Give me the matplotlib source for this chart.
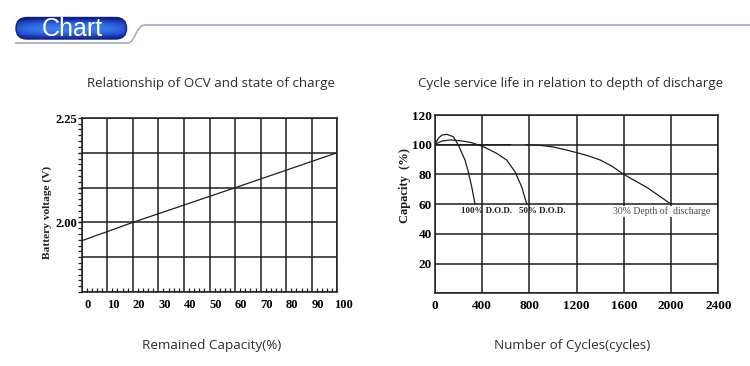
"""Battery charts: OCV vs state of charge, and cycle life vs depth of discharge."""

import numpy as np
import matplotlib
matplotlib.use("Agg")
import matplotlib.pyplot as plt
from matplotlib.patches import FancyBboxPatch
from matplotlib.path import Path
from matplotlib.patches import PathPatch
from matplotlib.ticker import AutoMinorLocator
import matplotlib.transforms as mtransforms

# ---- data: OCV vs state of charge ----
soc = [0, 20, 60, 100]
ocv = [1.956, 2.000, 2.083, 2.167]
soc_ticks = [0, 10, 20, 30, 40, 50, 60, 70, 80, 90, 100]
ocv_grid = [1.8333, 1.9167, 2.0, 2.0833, 2.1667, 2.25]
ocv_labels = ["", "", "2.00", "", "", "2.25"]

# ---- data: cycle life vs depth of discharge ----
cyc_100 = [0, 30, 60, 99, 155, 198, 254, 282, 311, 339]
cap_100 = [100.5, 104.5, 106.5, 107.0, 105.4, 99.8, 89.7, 81.8, 71.7, 60.0]
cyc_50 = [0, 60, 127, 212, 311, 409, 522, 607, 678, 734, 771, 780]
cap_50 = [100.3, 102.5, 103.2, 102.7, 101.4, 98.7, 94.2, 89.7, 81.8, 71.7, 61.7, 60.0]
cyc_30 = [0, 640, np.nan, 770, 900, 1000, 1100, 1200, 1300, 1400, 1500, 1600, 1700, 1800, 1900, 2000]
cap_30 = [100, 100, np.nan, 100, 99.5, 98.5, 96.7, 94.7, 92.5, 89.7, 85.5, 80, 75.5, 71, 65.5, 60]
cycle_ticks = [0, 400, 800, 1200, 1600, 2000, 2400]
cap_ticks = [0, 20, 40, 60, 80, 100, 120]
cap_labels = ["", "20", "40", "60", "80", "100", "120"]

W, H = 750, 366
SERIF = "Liberation Serif"
SANS = "Open Sans"
INK = "#1e1e1e"


def fx(x):
    return x / W


def fy(y):
    return 1 - y / H


fig = plt.figure(figsize=(W / 100, H / 100), dpi=100)

# ---- header: blue "Chart" pill with a rule ----
hdr = fig.add_axes([0, 0, 1, 1])
hdr.set_xlim(0, W)
hdr.set_ylim(H, 0)
hdr.axis("off")
rule = Path(
    [(15, 43), (128, 43), (135, 43), (136, 25), (145, 25), (W, 25)],
    [Path.MOVETO, Path.LINETO, Path.CURVE4, Path.CURVE4, Path.CURVE4, Path.LINETO],
)
hdr.add_patch(PathPatch(rule, fill=False, edgecolor="#a9a9c2", lw=1.2))
pill = FancyBboxPatch((16, 17.5), 110.5, 21.5, boxstyle="round,pad=0,rounding_size=10.7",
                      facecolor="none", edgecolor="#14207a", lw=1.0, zorder=3)
hdr.add_patch(pill)
grad_v = np.array([0.3, 0.62, 0.85, 0.95, 1.0, 0.92, 0.72, 0.4])[:, None]
grad_h = 1 - 0.3 * np.abs(np.linspace(-1, 1, 60))[None, :] ** 4
shade = grad_v * grad_h
cmap = matplotlib.colors.LinearSegmentedColormap.from_list(
    "pill", ["#0a1570", "#1f48cc", "#3f7eee"])
img = hdr.imshow(shade, cmap=cmap, vmin=0.25, vmax=1.0, extent=(16, 126.5, 39, 17.5),
                 aspect="auto", interpolation="bicubic", zorder=2)
img.set_clip_path(pill)
hdr.text(72.5, 28.6, "Chart", color="white", fontsize=18, family="Liberation Sans",
         ha="center", va="center", zorder=4)

# ---- left chart ----
ax1 = fig.add_axes([fx(81.7), fy(292), (337.3 - 81.7) / W, (292 - 118) / H])
ax1.plot(soc, ocv, color=INK, lw=0.9)
ax1.set_xlim(0, 100)
ax1.set_ylim(ocv_grid[0], ocv_grid[-1])
ax1.set_xticks(soc_ticks)
ax1.set_xticklabels([str(t) for t in soc_ticks])
ax1.set_yticks(ocv_grid)
ax1.set_yticklabels(ocv_labels)
ax1.xaxis.set_minor_locator(AutoMinorLocator(5))
ax1.yaxis.set_minor_locator(AutoMinorLocator(6))
ax1.grid(True, which="major", color=INK, lw=1.1)
ax1.tick_params(axis="x", which="major", length=0, pad=5, labelsize=9)
ax1.tick_params(axis="x", which="minor", direction="in", length=3, width=0.9, color=INK)
ax1.tick_params(axis="y", which="both", direction="out", length=3, width=0.9, color=INK,
                pad=0, labelsize=9)
for lbl in ax1.get_xticklabels() + ax1.get_yticklabels():
    lbl.set_family(SERIF)
    lbl.set_weight("bold")
shift = mtransforms.ScaledTranslation(6 / 100, 0, fig.dpi_scale_trans)
for lbl in ax1.get_xticklabels():
    lbl.set_transform(lbl.get_transform() + shift)
for sp in ax1.spines.values():
    sp.set_color(INK)
    sp.set_linewidth(1.1)

# ---- right chart ----
ax2 = fig.add_axes([fx(435), fy(293.3), (718.3 - 435) / W, (293.3 - 115) / H])
ax2.plot(cyc_100, cap_100, color=INK, lw=0.9)
ax2.plot(cyc_50, cap_50, color=INK, lw=0.9)
ax2.plot(cyc_30, cap_30, color=INK, lw=0.9)
ax2.set_xlim(0, 2400)
ax2.set_ylim(0, 120)
ax2.set_xticks(cycle_ticks)
ax2.set_yticks(cap_ticks)
ax2.set_yticklabels(cap_labels)
ax2.grid(True, color=INK, lw=1.1)
ax2.tick_params(length=0, labelsize=9.5)
ax2.tick_params(axis="x", pad=5)
ax2.tick_params(axis="y", pad=2)
for lbl in ax2.get_xticklabels() + ax2.get_yticklabels():
    lbl.set_family(SERIF)
    lbl.set_weight("bold")
for sp in ax2.spines.values():
    sp.set_color(INK)
    sp.set_linewidth(1.1)
ax2.text(440, 55.2, "100% D.O.D.", family=SERIF, fontsize=6.4, weight="bold",
         ha="center", va="center", color=INK)
ax2.text(910, 55.2, "50% D.O.D.", family=SERIF, fontsize=6.4, weight="bold",
         ha="center", va="center", color=INK)
ax2.text(1924, 55.2, "30% Depth of  discharge", family=SERIF, fontsize=7,
         ha="center", va="center", color="#4a4a4a",
         bbox=dict(facecolor="white", edgecolor="none", pad=0.5))

# ---- titles and axis labels ----
fig.text(fx(211), fy(83), "Relationship of OCV and state of charge", family=SANS,
         fontsize=9.6, color="#2e2e2e", ha="center", va="center")
fig.text(fx(571), fy(83), "Cycle service life in relation to depth of discharge", family=SANS,
         fontsize=9.6, color="#2e2e2e", ha="center", va="center")
fig.text(fx(212), fy(345), "Remained Capacity(%)", family=SANS,
         fontsize=9.7, color="#2e2e2e", ha="center", va="center")
fig.text(fx(572), fy(345), "Number of Cycles(cycles)", family=SANS,
         fontsize=9.7, color="#2e2e2e", ha="center", va="center")
fig.text(fx(46.7), fy(212), "Battery voltage (V)", family=SERIF, fontsize=8.2,
         weight="bold", rotation=90, ha="center", va="center", color=INK)
fig.text(fx(405), fy(186), "Capacity  (%)", family=SERIF, fontsize=9,
         weight="bold", rotation=90, ha="center", va="center", color=INK)

fig.savefig("out.png", dpi=100, facecolor="white")
